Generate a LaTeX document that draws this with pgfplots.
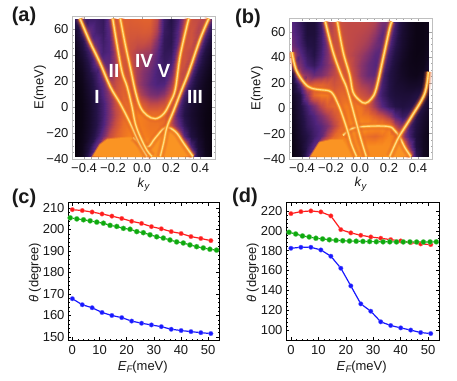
\documentclass[border=0pt]{standalone}
\usepackage{fontspec}
\setmainfont{Liberation Sans}
\usepackage{pgfplots}
\usepackage{pgfplotstable}
\pgfplotsset{compat=1.18}

\definecolor{redc}{RGB}{255,28,28}
\definecolor{greenc}{RGB}{14,170,14}
\definecolor{bluec}{RGB}{24,24,255}
\definecolor{hump}{RGB}{250,148,35}
\definecolor{gl1}{RGB}{222,95,48}
\definecolor{gl2}{RGB}{240,120,35}
\definecolor{gl3}{RGB}{250,145,35}
\definecolor{gl4}{RGB}{252,172,55}
\definecolor{gl5}{RGB}{255,222,135}

\newcommand{\tk}{\fontsize{13}{15}\selectfont}
\newcommand{\sub}[1]{\raisebox{-2.5pt}{\fontsize{9.5}{10}\selectfont\itshape #1}}

\pgfplotsset{
  band/.style={no marks,smooth,tension=0.6},
  humpf/.style={fill=hump,draw=hump,line width=2pt,draw opacity=0.5},
  base/.style={
    scale only axis,
    tick label style={font=\tk,text=black!90},
    label style={font=\tk,text=black!90},
    tick align=inside,
    major tick length=3pt,
    minor tick length=1.5pt,
    /pgf/number format/assume math mode=true,
  },
  heat/.style={base,
    axis line style={black!25,line width=0.9pt},
    tick style={black!35,line width=0.4pt},
    minor tick num=3,
    xtick={-0.4,-0.2,0,0.2,0.4},
    xticklabels={−0.4,−0.2,0.0,0.2,0.4},
    ytick={-40,-20,0,20,40,60},
    yticklabels={−40,−20,0,20,40,60},
    xticklabel shift=1pt,
    ymin=-40,
    colormap={sunset}{
      rgb255(0cm)=(8,2,12);
      rgb255(2cm)=(36,18,70);
      rgb255(3.3cm)=(80,36,125);
      rgb255(4.5cm)=(138,52,105);
      rgb255(5.5cm)=(190,72,72);
      rgb255(6.5cm)=(222,95,48);
      rgb255(7.5cm)=(244,125,30);
      rgb255(8.5cm)=(252,155,32);
      rgb255(10cm)=(255,230,160)},
    point meta min=0,point meta max=1,
    xlabel={\textit{k}\sub{y}},
    ylabel={E(meV)},
    xlabel style={at={(axis description cs:0.5,-0.18)},anchor=center},
    ylabel style={at={(axis description cs:-0.224,0.5)},anchor=center},
  },
  line/.style={base,
    axis line style={black,line width=1pt},
    tick style={black,line width=0.5pt},
    minor tick num=4,
    xtick={0,10,20,30,40,50},
    xticklabel shift=2pt,
    xlabel={\textit{E}\sub{F}(meV)},
    ylabel={\textit{θ} (degree)},
    xlabel style={at={(axis description cs:0.495,-0.195)},anchor=center},
    ylabel style={at={(axis description cs:-0.218,0.49)},anchor=center},
  },
  redl/.style={color=redc,line width=1.2pt,mark=*,mark size=2.3pt,mark options={draw=redc!60,line width=0.3pt,fill=redc}},
  greenl/.style={color=greenc,line width=1.2pt,mark=*,mark size=2.6pt,mark options={draw=greenc!60,line width=0.3pt,fill=greenc}},
  bluel/.style={color=bluec,line width=1.2pt,mark=*,mark size=2.3pt,mark options={draw=bluec!60,line width=0.3pt,fill=bluec}},
}

\newcommand{\glowband}[1]{%
  \addplot[band,line width=9pt,gl1,opacity=0.12] table {#1};
  \addplot[band,line width=7pt,gl1,opacity=0.2] table {#1};
  \addplot[band,line width=5pt,gl2,opacity=0.35] table {#1};
  \addplot[band,line width=3.4pt,gl3,opacity=0.8] table {#1};
  \addplot[band,line width=2.2pt,gl4] table {#1};
  \addplot[band,line width=1.1pt,gl5] table {#1};
}

% bands of panel (a)
\pgfplotstableread{
k E
-.428 68
-.359 50
-.29 34
-.218 15.4
-.15 2.5
-.08 -12.8
-.023 -26.9
.035 -38
}\aOne
\pgfplotstableread{
k E
-.202 68
-.172 47.7
-.138 27
-.103 15.6
-.069 0
-.046 -12.8
-.012 -23
.034 -33.3
.069 -38
}\aTwo
\pgfplotstableread{
k E
-.15 68
-.115 47.7
-.08 29.7
-.046 12
-.012 0
.034 -6.4
.092 -9
.15 -5.1
.195 3.8
.23 14
.264 40
.322 68
}\aThree
\pgfplotstableread{
k E
.46 68
.402 52.8
.322 27
.276 14
.218 -2.6
.172 -15.4
.15 -26.9
.126 -38
}\aFour
\pgfplotstableread{
k E
-.06 -23.5
.034 -30.8
.09 -24
.161 -15.9
.23 -19
.287 -28
.35 -38
}\aFive
% bands of panel (b)
\pgfplotstableread{
k E
-.47 44
-.44 30
-.381 19.4
-.33 15.5
-.267 14.4
-.198 12.6
-.152 3.4
-.117 -7
-.083 -18.9
-.06 -28
-.024 -38
}\bOne
\pgfplotstableread{
k E
-.239 68
-.186 44.3
-.129 26
-.094 16.8
-.06 3.4
-.026 -11
.009 -25.4
.043 -38
}\bTwo
\pgfplotstableread{
k E
-.156 68
-.117 44.3
-.071 26
-.048 12.6
-.002 6
.037 3.9
.078 7.3
.112 15.2
.159 39
.205 62.8
.22 68
}\bThree
\pgfplotstableread{
k E
.472 28.6
.446 11.3
.354 -7
.274 -21.5
.239 -29.4
.205 -38
}\bFour
\pgfplotstableread{
k E
-.117 -21.5
-.06 -16.3
.032 -14.4
.193 -14.4
.239 -17.6
.274 -22.8
.308 -30.7
.35 -38
}\bFive

\begin{document}
\begin{tikzpicture}[x=1pt,y=1pt]
\path[use as bounding box] (0,0) rectangle (457,380);

% (a)
\begin{axis}[heat,at={(72pt,221pt)},anchor=south west,width=143pt,height=143pt,
  xmin=-.483,xmax=.503,ymax=70]
\addplot[surf,shader=interp,mesh/cols=21,point meta=explicit] coordinates {
(-.46,68)[.25](-.413,68)[.3](-.366,68)[.28](-.319,68)[.28](-.272,68)[.25](-.225,68)[.38](-.178,68)[.6](-.131,68)[.65](-.084,68)[.64](-.037,68)[.65](.01,68)[.66](.057,68)[.66](.104,68)[.55](.151,68)[.28](.198,68)[.2](.245,68)[.3](.292,68)[.5](.339,68)[.58](.386,68)[.56](.433,68)[.52](.48,68)[.3]
(-.46,58)[.12](-.413,58)[.28](-.366,58)[.38](-.319,58)[.3](-.272,58)[.26](-.225,58)[.35](-.178,58)[.6](-.131,58)[.65](-.084,58)[.62](-.037,58)[.62](.01,58)[.63](.057,58)[.62](.104,58)[.5](.151,58)[.26](.198,58)[.22](.245,58)[.35](.292,58)[.55](.339,58)[.6](.386,58)[.52](.433,58)[.35](.48,58)[.2]
(-.46,50)[.08](-.413,50)[.2](-.366,50)[.36](-.319,50)[.36](-.272,50)[.28](-.225,50)[.33](-.178,50)[.55](-.131,50)[.65](-.084,50)[.6](-.037,50)[.58](.01,50)[.58](.057,50)[.55](.104,50)[.42](.151,50)[.24](.198,50)[.22](.245,50)[.38](.292,50)[.58](.339,50)[.6](.386,50)[.45](.433,50)[.26](.48,50)[.12]
(-.46,42)[.05](-.413,42)[.15](-.366,42)[.28](-.319,42)[.4](-.272,42)[.3](-.225,42)[.33](-.178,42)[.5](-.131,42)[.62](-.084,42)[.58](-.037,42)[.52](.01,42)[.5](.057,42)[.48](.104,42)[.36](.151,42)[.24](.198,42)[.25](.245,42)[.45](.292,42)[.6](.339,42)[.55](.386,42)[.35](.433,42)[.18](.48,42)[.08]
(-.46,34)[.03](-.413,34)[.1](-.366,34)[.22](-.319,34)[.38](-.272,34)[.36](-.225,34)[.36](-.178,34)[.5](-.131,34)[.62](-.084,34)[.58](-.037,34)[.5](.01,34)[.46](.057,34)[.42](.104,34)[.33](.151,34)[.26](.198,34)[.3](.245,34)[.55](.292,34)[.6](.339,34)[.45](.386,34)[.26](.433,34)[.13](.48,34)[.05]
(-.46,26)[.02](-.413,26)[.07](-.366,26)[.18](-.319,26)[.28](-.272,26)[.42](-.225,26)[.42](-.178,26)[.55](-.131,26)[.62](-.084,26)[.6](-.037,26)[.5](.01,26)[.43](.057,26)[.38](.104,26)[.31](.151,26)[.28](.198,26)[.38](.245,26)[.58](.292,26)[.55](.339,26)[.34](.386,26)[.18](.433,26)[.09](.48,26)[.03]
(-.46,18)[.01](-.413,18)[.05](-.366,18)[.14](-.319,18)[.25](-.272,18)[.36](-.225,18)[.48](-.178,18)[.58](-.131,18)[.65](-.084,18)[.62](-.037,18)[.5](.01,18)[.42](.057,18)[.36](.104,18)[.32](.151,18)[.33](.198,18)[.48](.245,18)[.6](.292,18)[.42](.339,18)[.25](.386,18)[.13](.433,18)[.06](.48,18)[.02]
(-.46,10)[0](-.413,10)[.04](-.366,10)[.12](-.319,10)[.22](-.272,10)[.34](-.225,10)[.46](-.178,10)[.6](-.131,10)[.66](-.084,10)[.66](-.037,10)[.56](.01,10)[.48](.057,10)[.42](.104,10)[.4](.151,10)[.45](.198,10)[.58](.245,10)[.5](.292,10)[.3](.339,10)[.18](.386,10)[.1](.433,10)[.05](.48,10)[.01]
(-.46,2)[0](-.413,2)[.03](-.366,2)[.1](-.319,2)[.2](-.272,2)[.3](-.225,2)[.42](-.178,2)[.58](-.131,2)[.68](-.084,2)[.7](-.037,2)[.68](.01,2)[.62](.057,2)[.56](.104,2)[.56](.151,2)[.6](.198,2)[.6](.245,2)[.38](.292,2)[.23](.339,2)[.14](.386,2)[.08](.433,2)[.04](.48,2)[.01]
(-.46,-6)[0](-.413,-6)[.03](-.366,-6)[.1](-.319,-6)[.2](-.272,-6)[.3](-.225,-6)[.42](-.178,-6)[.56](-.131,-6)[.68](-.084,-6)[.74](-.037,-6)[.76](.01,-6)[.74](.057,-6)[.72](.104,-6)[.72](.151,-6)[.68](.198,-6)[.5](.245,-6)[.32](.292,-6)[.2](.339,-6)[.12](.386,-6)[.07](.433,-6)[.03](.48,-6)[.01]
(-.46,-14)[0](-.413,-14)[.03](-.366,-14)[.1](-.319,-14)[.2](-.272,-14)[.32](-.225,-14)[.46](-.178,-14)[.6](-.131,-14)[.7](-.084,-14)[.74](-.037,-14)[.76](.01,-14)[.74](.057,-14)[.72](.104,-14)[.72](.151,-14)[.7](.198,-14)[.56](.245,-14)[.38](.292,-14)[.24](.339,-14)[.14](.386,-14)[.08](.433,-14)[.03](.48,-14)[.01]
(-.46,-22)[0](-.413,-22)[.04](-.366,-22)[.12](-.319,-22)[.24](-.272,-22)[.4](-.225,-22)[.56](-.178,-22)[.66](-.131,-22)[.72](-.084,-22)[.76](-.037,-22)[.78](.01,-22)[.76](.057,-22)[.74](.104,-22)[.76](.151,-22)[.76](.198,-22)[.72](.245,-22)[.56](.292,-22)[.34](.339,-22)[.18](.386,-22)[.1](.433,-22)[.04](.48,-22)[.01]
(-.46,-30)[0](-.413,-30)[.05](-.366,-30)[.18](-.319,-30)[.38](-.272,-30)[.72](-.225,-30)[.8](-.178,-30)[.8](-.131,-30)[.8](-.084,-30)[.82](-.037,-30)[.84](.01,-30)[.84](.057,-30)[.82](.104,-30)[.8](.151,-30)[.8](.198,-30)[.8](.245,-30)[.76](.292,-30)[.62](.339,-30)[.32](.386,-30)[.14](.433,-30)[.05](.48,-30)[.01]
(-.46,-38)[0](-.413,-38)[.06](-.366,-38)[.26](-.319,-38)[.6](-.272,-38)[.78](-.225,-38)[.8](-.178,-38)[.8](-.131,-38)[.8](-.084,-38)[.82](-.037,-38)[.84](.01,-38)[.84](.057,-38)[.84](.104,-38)[.8](.151,-38)[.8](.198,-38)[.8](.245,-38)[.78](.292,-38)[.7](.339,-38)[.45](.386,-38)[.18](.433,-38)[.06](.48,-38)[.01]
};
\addplot[humpf] coordinates {(-.34,-38)(-.29,-29)(-.24,-25)(-.1,-23.5)(0,-24)(.05,-30)(.1,-25)(.16,-17)(.23,-19)(.29,-28)(.35,-38)} -- cycle;
\glowband{\aFive}
\glowband{\aOne}
\glowband{\aTwo}
\glowband{\aThree}
\glowband{\aFour}
\end{axis}

% (b)
\begin{axis}[heat,at={(289pt,221pt)},anchor=south west,width=143pt,height=141pt,
  xmin=-.49,xmax=.497,ymax=70.9]
\addplot[surf,shader=interp,mesh/cols=21,point meta=explicit] coordinates {
(-.47,68)[.34](-.413,68)[.25](-.366,68)[.15](-.319,68)[.15](-.272,68)[.28](-.225,68)[.48](-.178,68)[.58](-.131,68)[.58](-.084,68)[.56](-.037,68)[.56](.01,68)[.56](.057,68)[.55](.104,68)[.52](.151,68)[.42](.198,68)[.4](.245,68)[.3](.292,68)[.15](.339,68)[.07](.386,68)[.03](.433,68)[.03](.476,68)[.05]
(-.47,58)[.36](-.413,58)[.28](-.366,58)[.16](-.319,58)[.16](-.272,58)[.28](-.225,58)[.45](-.178,58)[.58](-.131,58)[.58](-.084,58)[.56](-.037,58)[.55](.01,58)[.54](.057,58)[.52](.104,58)[.46](.151,58)[.36](.198,58)[.38](.245,58)[.26](.292,58)[.13](.339,58)[.07](.386,58)[.03](.433,58)[.03](.476,58)[.05]
(-.47,50)[.4](-.413,50)[.3](-.366,50)[.2](-.319,50)[.18](-.272,50)[.28](-.225,50)[.42](-.178,50)[.58](-.131,50)[.6](-.084,50)[.56](-.037,50)[.54](.01,50)[.52](.057,50)[.48](.104,50)[.4](.151,50)[.36](.198,50)[.34](.245,50)[.22](.292,50)[.12](.339,50)[.06](.386,50)[.03](.433,50)[.03](.476,50)[.06]
(-.47,42)[.5](-.413,42)[.36](-.366,42)[.25](-.319,42)[.2](-.272,42)[.3](-.225,42)[.42](-.178,42)[.58](-.131,42)[.62](-.084,42)[.56](-.037,42)[.52](.01,42)[.48](.057,42)[.42](.104,42)[.35](.151,42)[.36](.198,42)[.28](.245,42)[.18](.292,42)[.1](.339,42)[.05](.386,42)[.03](.433,42)[.04](.476,42)[.08]
(-.47,34)[.3](-.413,34)[.42](-.366,34)[.3](-.319,34)[.25](-.272,34)[.34](-.225,34)[.42](-.178,34)[.52](-.131,34)[.62](-.084,34)[.6](-.037,34)[.52](.01,34)[.45](.057,34)[.38](.104,34)[.34](.151,34)[.34](.198,34)[.24](.245,34)[.15](.292,34)[.08](.339,34)[.05](.386,34)[.04](.433,34)[.05](.476,34)[.12]
(-.47,26)[.15](-.413,26)[.5](-.366,26)[.45](-.319,26)[.38](-.272,26)[.42](-.225,26)[.48](-.178,26)[.55](-.131,26)[.62](-.084,26)[.62](-.037,26)[.54](.01,26)[.45](.057,26)[.38](.104,26)[.36](.151,26)[.3](.198,26)[.2](.245,26)[.14](.292,26)[.09](.339,26)[.06](.386,26)[.05](.433,26)[.08](.476,26)[.15]
(-.47,18)[.1](-.413,18)[.32](-.366,18)[.62](-.319,18)[.68](-.272,18)[.68](-.225,18)[.65](-.178,18)[.6](-.131,18)[.64](-.084,18)[.66](-.037,18)[.6](.01,18)[.52](.057,18)[.48](.104,18)[.42](.151,18)[.3](.198,18)[.2](.245,18)[.14](.292,18)[.12](.339,18)[.1](.386,18)[.1](.433,18)[.12](.476,18)[.18]
(-.47,10)[.08](-.413,10)[.2](-.366,10)[.45](-.319,10)[.68](-.272,10)[.74](-.225,10)[.74](-.178,10)[.66](-.131,10)[.68](-.084,10)[.7](-.037,10)[.66](.01,10)[.6](.057,10)[.55](.104,10)[.42](.151,10)[.28](.198,10)[.2](.245,10)[.16](.292,10)[.15](.339,10)[.15](.386,10)[.18](.433,10)[.2](.476,10)[.12]
(-.47,2)[.06](-.413,2)[.18](-.366,2)[.3](-.319,2)[.42](-.272,2)[.55](-.225,2)[.64](-.178,2)[.68](-.131,2)[.72](-.084,2)[.76](-.037,2)[.74](.01,2)[.72](.057,2)[.62](.104,2)[.48](.151,2)[.34](.198,2)[.25](.245,2)[.2](.292,2)[.18](.339,2)[.2](.386,2)[.24](.433,2)[.18](.476,2)[.1]
(-.47,-6)[.05](-.413,-6)[.16](-.366,-6)[.26](-.319,-6)[.33](-.272,-6)[.42](-.225,-6)[.5](-.178,-6)[.6](-.131,-6)[.7](-.084,-6)[.76](-.037,-6)[.76](.01,-6)[.74](.057,-6)[.72](.104,-6)[.65](.151,-6)[.58](.198,-6)[.48](.245,-6)[.34](.292,-6)[.26](.339,-6)[.28](.386,-6)[.22](.433,-6)[.12](.476,-6)[.07]
(-.47,-14)[.04](-.413,-14)[.14](-.366,-14)[.24](-.319,-14)[.3](-.272,-14)[.35](-.225,-14)[.42](-.178,-14)[.54](-.131,-14)[.68](-.084,-14)[.78](-.037,-14)[.82](.01,-14)[.82](.057,-14)[.82](.104,-14)[.82](.151,-14)[.82](.198,-14)[.76](.245,-14)[.55](.292,-14)[.42](.339,-14)[.3](.386,-14)[.18](.433,-14)[.1](.476,-14)[.05]
(-.47,-22)[.03](-.413,-22)[.12](-.366,-22)[.2](-.319,-22)[.28](-.272,-22)[.36](-.225,-22)[.52](-.178,-22)[.68](-.131,-22)[.74](-.084,-22)[.78](-.037,-22)[.78](.01,-22)[.74](.057,-22)[.7](.104,-22)[.68](.151,-22)[.72](.198,-22)[.78](.245,-22)[.72](.292,-22)[.5](.339,-22)[.3](.386,-22)[.16](.433,-22)[.08](.476,-22)[.04]
(-.47,-30)[.02](-.413,-30)[.1](-.366,-30)[.22](-.319,-30)[.36](-.272,-30)[.7](-.225,-30)[.8](-.178,-30)[.8](-.131,-30)[.8](-.084,-30)[.8](-.037,-30)[.8](.01,-30)[.8](.057,-30)[.8](.104,-30)[.8](.151,-30)[.8](.198,-30)[.8](.245,-30)[.8](.292,-30)[.7](.339,-30)[.44](.386,-30)[.18](.433,-30)[.08](.476,-30)[.04]
(-.47,-38)[.02](-.413,-38)[.08](-.366,-38)[.28](-.319,-38)[.66](-.272,-38)[.8](-.225,-38)[.82](-.178,-38)[.82](-.131,-38)[.82](-.084,-38)[.82](-.037,-38)[.82](.01,-38)[.8](.057,-38)[.8](.104,-38)[.8](.151,-38)[.8](.198,-38)[.82](.245,-38)[.82](.292,-38)[.76](.339,-38)[.58](.386,-38)[.24](.433,-38)[.08](.476,-38)[.04]
};
\addplot[humpf] coordinates {(-.34,-38)(-.28,-27)(-.2,-25)(-.12,-25)(-.06,-38)} -- cycle;
\addplot[humpf] coordinates {(.2,-38)(.24,-27)(.27,-24)(.31,-31)(.35,-38)} -- cycle;
\glowband{\bFive}
\glowband{\bOne}
\glowband{\bTwo}
\glowband{\bThree}
\glowband{\bFour}
\end{axis}

% (c)
\begin{axis}[line,at={(68pt,40pt)},anchor=south west,width=151pt,height=137pt,
  xmin=-1.6,xmax=54,ymin=148.6,ymax=212.3,ytick={150,160,170,180,190,200,210}]
\addplot[bluel] coordinates {(0,167.8)(3.64,165)(7.28,163.6)(10.92,161.4)(14.56,160)(18.2,159)(21.84,157.4)(25.48,156.4)(29.12,155.6)(32.76,154.8)(36.4,153.6)(40.04,153)(43.68,152.5)(47.32,152)(51,151.6)};
\addplot[greenl] coordinates {(-.8,205.4)(1.65,204.9)(4.1,204.5)(6.55,204)(9,203.4)(11.45,202.9)(13.9,201.9)(16.35,201.4)(18.8,200.5)(21.25,200.1)(23.7,199)(26.15,198.5)(28.6,197.5)(31.05,196.6)(33.5,196)(35.95,195.1)(38.4,194.2)(40.85,193.7)(43.3,192.8)(45.75,192)(48.2,191.4)(50.65,190.8)(53.1,190.4)};
\addplot[redl] coordinates {(0,209.2)(3.64,208.8)(7.28,208.1)(10.92,207.2)(14.56,206.2)(18.2,205.1)(21.84,203.8)(25.48,202.8)(29.12,201.3)(32.76,200.3)(36.4,199)(40.04,198.1)(43.68,196.7)(47.32,195.8)(51,194.8)};
\end{axis}

% (d)
\begin{axis}[line,at={(286pt,40pt)},anchor=south west,width=153pt,height=137pt,
  xmin=-1.8,xmax=54,ymin=90,ymax=228,ytick={100,120,140,160,180,200,220}]
\addplot[bluel] coordinates {(0,182.4)(3.64,183.4)(7.28,183.4)(10.92,180.7)(14.56,174.4)(18.2,162.3)(21.84,144.5)(25.48,126.4)(29.12,119)(32.76,108.3)(36.4,104.6)(40.04,102.2)(43.68,100)(47.32,97.5)(51,96.5)};
\addplot[redl] coordinates {(0,217.3)(3.64,219.3)(7.28,220)(10.92,219)(14.56,215)(18.2,201.2)(21.84,197.9)(25.48,195.5)(29.12,193.8)(32.76,192.5)(36.4,191.1)(40.04,189.8)(43.68,188.1)(47.32,186.8)(51,186.1)};
\addplot[greenl] coordinates {(-.7,198.5)(1.75,196.8)(4.2,194.8)(6.65,193.8)(9.1,192.5)(11.55,191.8)(14,191)(16.45,190.4)(18.9,190)(21.35,189.7)(23.8,189.5)(26.25,189.3)(28.7,189.2)(31.15,189)(33.6,188.9)(36.05,188.9)(38.5,188.8)(40.95,188.8)(43.4,188.8)(45.85,188.7)(48.3,188.7)(50.75,188.8)(53,188.9)};
\end{axis}

% panel letters
\newcommand{\plet}[3]{\node[font=\fontsize{20}{22}\selectfont\bfseries,text=black!90] at (#1,#2) {#3};}
\plet{24}{364}{(a)}
\plet{248}{362}{(b)}
\plet{24}{182}{(c)}
\plet{245}{183}{(d)}

% band labels of (a)
\newcommand{\blab}[3]{\node[font=\fontsize{19}{21}\selectfont\bfseries,text=white,inner sep=0pt] at (#1,#2) {#3};}
\blab{97}{283}{I}
\blab{114}{309}{II}
\blab{195}{283}{III}
\blab{144}{319}{IV}
\blab{164}{309}{V}
\end{tikzpicture}
\end{document}
